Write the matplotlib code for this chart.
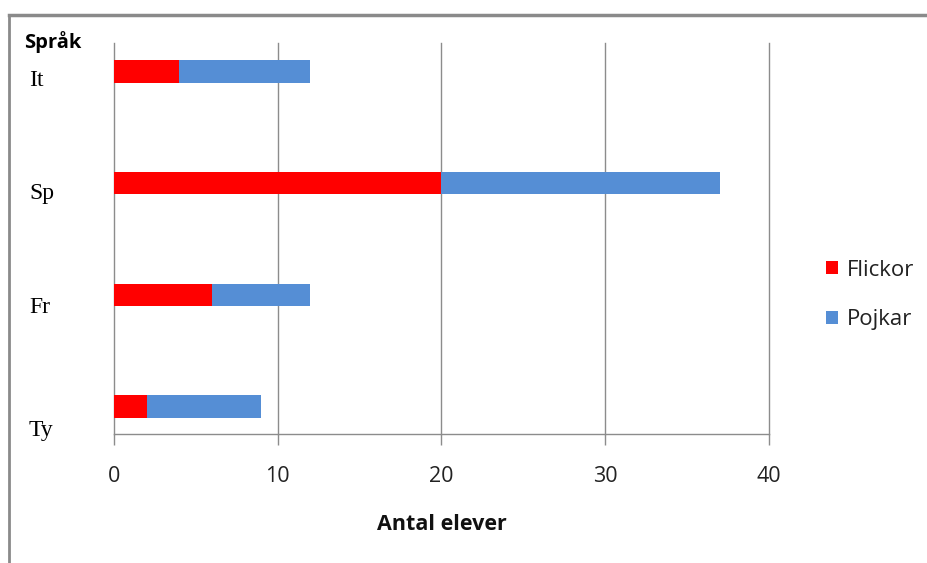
import matplotlib
matplotlib.use('agg')
from matplotlib import pyplot as plt
from matplotlib.lines import Line2D

# data (top to bottom in chart)
languages = ['It', 'Sp', 'Fr', 'Ty']
flickor = [4, 20, 6, 2]
pojkar = [8, 17, 6, 7]
xticks = [0, 10, 20, 30, 40]

red = '#FF0000'
blue = '#558ED5'
grid_col = '#8C8C8C'
sans = ['Open Sans', 'DejaVu Sans']

W, H = 928, 563
fig = plt.figure(figsize=(W / 100, H / 100), dpi=100)
fig.patch.set_facecolor('white')

# axes rectangle in pixels: x 114..769, y 43..434
ax = fig.add_axes([114 / W, 1 - 434 / H, (769 - 114) / W, (434 - 43) / H])

ypos = list(range(len(languages) - 1, -1, -1))  # It at top
ax.barh(ypos, flickor, height=0.2, color=red, label='Flickor')
ax.barh(ypos, pojkar, left=flickor, height=0.2, color=blue, label='Pojkar')

ax.set_xlim(0, 40)
ax.set_ylim(-0.246, 3.255)
ax.set_xticks(xticks)
ax.set_yticks([])
ax.xaxis.grid(True, color=grid_col, linewidth=1)
for gl in ax.get_xgridlines():
    gl.set_clip_on(False)
ax.set_axisbelow(True)
for s in ['top', 'right', 'left']:
    ax.spines[s].set_visible(False)
ax.spines['bottom'].set_color(grid_col)
ax.spines['bottom'].set_linewidth(1)
ax.tick_params(axis='x', length=8, width=1, color=grid_col, pad=15,
               labelsize=15.5, labelcolor='#222222')
for lab in ax.get_xticklabels():
    lab.set_family(sans)

# category labels, slightly offset from bars like the original
label_base = [86, 199, 313, 436]  # baseline pixel rows
for name, py in zip(languages, label_base):
    fig.text(29 / W, 1 - py / H, name, ha='left', va='baseline',
             fontsize=17, family=['Liberation Serif', 'DejaVu Serif'], color='black')

fig.text(24 / W, 1 - 42 / H, 'Språk', ha='left', va='center', fontsize=14.5,
         fontweight='bold', family=sans, color='black')
fig.text(442 / W, 1 - 525 / H, 'Antal elever', ha='center', va='center', fontsize=15.5,
         fontweight='bold', family=sans, color='#111111')

leg = fig.legend(loc='center left', bbox_to_anchor=(826 / W, 1 - 295 / H),
                 frameon=False, borderpad=0, borderaxespad=0,
                 handlelength=0.56, handleheight=0.56,
                 handletextpad=0.4, labelspacing=1.3,
                 prop={'family': sans, 'size': 16})
for t in leg.get_texts():
    t.set_color('#222222')

# outer frame of the chart area
frame_col = '#8A8A8A'
fig.add_artist(Line2D([9 / W, 1.0], [1 - 15 / H, 1 - 15 / H], color=frame_col,
                      linewidth=2.5, transform=fig.transFigure))
fig.add_artist(Line2D([9 / W, 9 / W], [0.0, 1 - 15 / H], color=frame_col,
                      linewidth=2.0, transform=fig.transFigure))

fig.savefig('out.png', dpi=100, facecolor='white')
